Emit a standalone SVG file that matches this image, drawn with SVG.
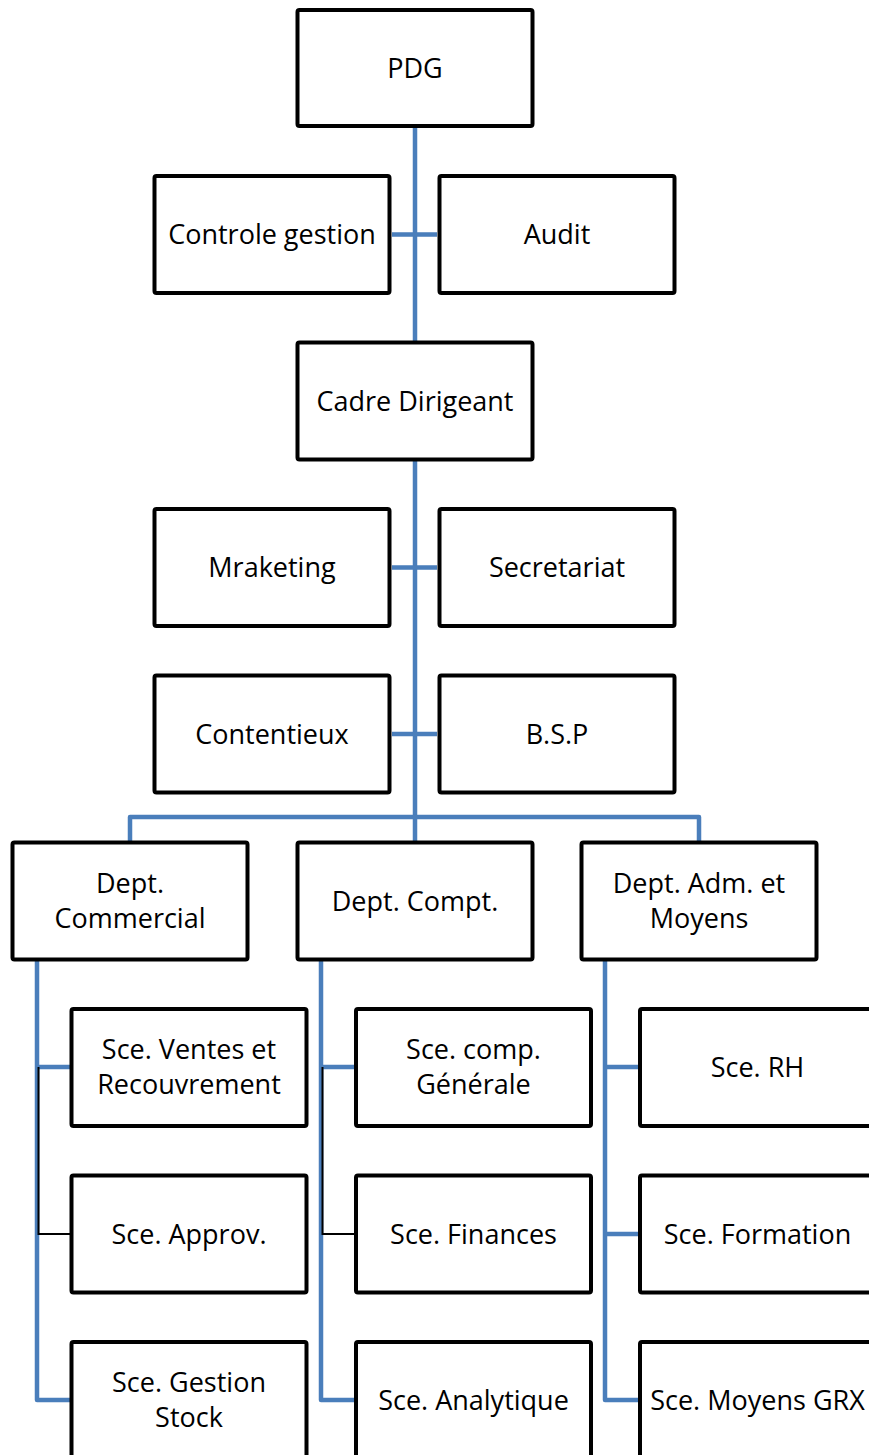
<svg xmlns="http://www.w3.org/2000/svg" width="869" height="1455" viewBox="0 0 869 1455">
<style>
.box{fill:#ffffff;stroke:#000000;stroke-width:4}
.lbl{font-family:"Open Sans","Liberation Sans",sans-serif;font-size:27px;fill:#000000;text-anchor:middle}
.c{fill:none;stroke:#4A7EBB;stroke-width:4.5;stroke-linejoin:round}
.k{fill:none;stroke:#000000;stroke-width:2}
</style>
<rect x="0" y="0" width="869" height="1455" fill="#ffffff"/>
<g id="connectors">
<path class="c" d="M415 126V842"/>
<path class="c" d="M392 234.5H437M392 567.5H437M392 734H437"/>
<path class="c" d="M130 842V817H699V842"/>
<path class="c" d="M37 961V1400H70M37 1067H70"/>
<path class="c" d="M321 961V1400H355M321 1067H355"/>
<path class="c" d="M605 961V1400H639M605 1067H639M605 1234H639"/>
<path class="k" d="M38.5 1067V1234H70"/>
<path class="k" d="M322.5 1067V1234H355"/>
</g>
<g id="pdg"><rect class="box" x="297.5" y="10" width="235" height="116" rx="2"/><text class="lbl" x="415" y="77.5">PDG</text></g>
<g id="controle"><rect class="box" x="154.5" y="176" width="235" height="117" rx="2"/><text class="lbl" x="272" y="244">Controle gestion</text></g>
<g id="audit"><rect class="box" x="439.5" y="176" width="235" height="117" rx="2"/><text class="lbl" x="557" y="244">Audit</text></g>
<g id="cadre"><rect class="box" x="297.5" y="342.5" width="235" height="117" rx="2"/><text class="lbl" x="415" y="410.5">Cadre Dirigeant</text></g>
<g id="marketing"><rect class="box" x="154.5" y="509" width="235" height="117" rx="2"/><text class="lbl" x="272" y="577">Mraketing</text></g>
<g id="secretariat"><rect class="box" x="439.5" y="509" width="235" height="117" rx="2"/><text class="lbl" x="557" y="577">Secretariat</text></g>
<g id="contentieux"><rect class="box" x="154.5" y="675.5" width="235" height="117" rx="2"/><text class="lbl" x="272" y="743.5">Contentieux</text></g>
<g id="bsp"><rect class="box" x="439.5" y="675.5" width="235" height="117" rx="2"/><text class="lbl" x="557" y="743.5">B.S.P</text></g>
<g id="dept-commercial"><rect class="box" x="12.5" y="842.5" width="235" height="117" rx="2"/><text class="lbl" x="130" y="892.5">Dept.</text><text class="lbl" x="130" y="927.5">Commercial</text></g>
<g id="dept-compt"><rect class="box" x="297.5" y="842.5" width="235" height="117" rx="2"/><text class="lbl" x="415" y="910.5">Dept. Compt.</text></g>
<g id="dept-adm"><rect class="box" x="581.5" y="842.5" width="235" height="117" rx="2"/><text class="lbl" x="699" y="892.5">Dept. Adm. et</text><text class="lbl" x="699" y="927.5">Moyens</text></g>
<g id="sce-ventes"><rect class="box" x="71.5" y="1009" width="235" height="117" rx="2"/><text class="lbl" x="189" y="1059">Sce. Ventes et</text><text class="lbl" x="189" y="1094">Recouvrement</text></g>
<g id="sce-approv"><rect class="box" x="71.5" y="1175.5" width="235" height="117" rx="2"/><text class="lbl" x="189" y="1243.5">Sce. Approv.</text></g>
<g id="sce-stock"><rect class="box" x="71.5" y="1342" width="235" height="117" rx="2"/><text class="lbl" x="189" y="1392">Sce. Gestion</text><text class="lbl" x="189" y="1427">Stock</text></g>
<g id="sce-compgen"><rect class="box" x="356" y="1009" width="235" height="117" rx="2"/><text class="lbl" x="473.5" y="1059">Sce. comp.</text><text class="lbl" x="473.5" y="1094">Générale</text></g>
<g id="sce-finances"><rect class="box" x="356" y="1175.5" width="235" height="117" rx="2"/><text class="lbl" x="473.5" y="1243.5">Sce. Finances</text></g>
<g id="sce-analytique"><rect class="box" x="356" y="1342" width="235" height="117" rx="2"/><text class="lbl" x="473.5" y="1409.5">Sce. Analytique</text></g>
<g id="sce-rh"><rect class="box" x="640" y="1009" width="235" height="117" rx="2"/><text class="lbl" x="757.5" y="1076.5">Sce. RH</text></g>
<g id="sce-formation"><rect class="box" x="640" y="1175.5" width="235" height="117" rx="2"/><text class="lbl" x="757.5" y="1243.5">Sce. Formation</text></g>
<g id="sce-moyens"><rect class="box" x="640" y="1342" width="235" height="117" rx="2"/><text class="lbl" x="757.5" y="1409.5">Sce. Moyens GRX</text></g>
</svg>
